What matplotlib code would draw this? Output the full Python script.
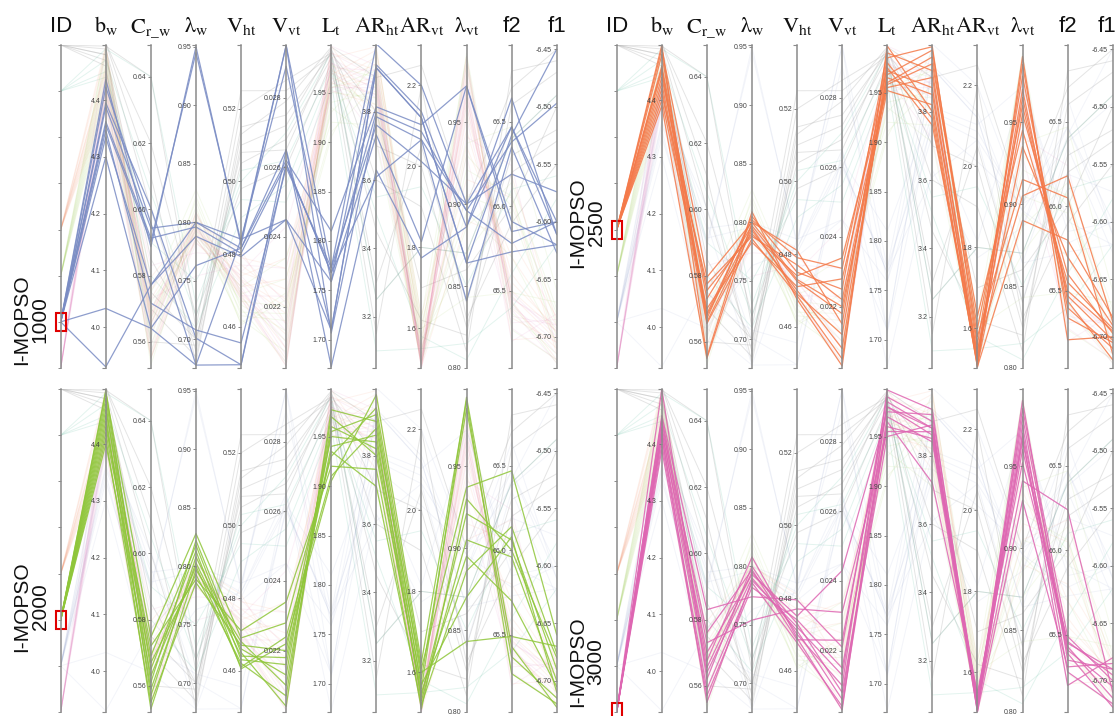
import matplotlib
matplotlib.use("Agg")
import matplotlib.pyplot as plt
from matplotlib.patches import Rectangle

plt.rcParams['font.family'] = ['Liberation Sans', 'DejaVu Sans']
plt.rcParams['mathtext.fontset'] = 'stix'

# column headers and axis ranges (bottom, top)
headers = ['ID', r'$\mathrm{b_w}$', r'$\mathrm{C_{r\_w}}$', r'$\mathrm{\lambda_w}$',
           r'$\mathrm{V_{ht}}$', r'$\mathrm{V_{vt}}$', r'$\mathrm{L_t}$',
           r'$\mathrm{AR_{ht}}$', r'$\mathrm{AR_{vt}}$', r'$\mathrm{\lambda_{vt}}$', 'f2', 'f1']
lows = [0, 3.928, 0.5521, 0.6755, 0.4486, 0.02024, 1.6717, 3.05, 1.502, 0.80, 65.043, -6.7272]
highs = [7, 4.497, 0.6496, 0.9515, 0.5376, 0.02951, 1.998, 3.995, 2.30, 0.997, 66.954, -6.4463]
ticks = [
    [0, 1, 2, 3, 4, 5, 6, 7],
    [4.0, 4.1, 4.2, 4.3, 4.4],
    [0.56, 0.58, 0.60, 0.62, 0.64],
    [0.70, 0.75, 0.80, 0.85, 0.90, 0.95],
    [0.46, 0.48, 0.50, 0.52],
    [0.022, 0.024, 0.026, 0.028],
    [1.70, 1.75, 1.80, 1.85, 1.90, 1.95],
    [3.2, 3.4, 3.6, 3.8],
    [1.6, 1.8, 2.0, 2.2],
    [0.80, 0.85, 0.90, 0.95],
    [65.5, 66.0, 66.5],
    [-6.70, -6.65, -6.60, -6.55, -6.50, -6.45],
]
tick_fmt = [None, '%.1f', '%.2f', '%.2f', '%.2f', '%.3f', '%.2f', '%.1f', '%.1f', '%.2f', '%.1f', '%.2f']

# solutions per run: b_w, C_r_w, lambda_w, V_ht, V_vt, L_t, AR_ht, AR_vt, lambda_vt, f2, f1
run_1000 = [
    [4.436, 0.5887, 0.950, 0.4825, 0.0295, 1.773, 3.998, 2.200, 0.900, 66.47, -6.600],
    [4.423, 0.5958, 0.678, 0.4841, 0.0289, 1.759, 3.937, 2.135, 0.886, 66.64, -6.611],
    [4.395, 0.6004, 0.701, 0.4495, 0.0265, 1.710, 3.928, 2.120, 0.864, 66.42, -6.450],
    [4.388, 0.5943, 0.800, 0.4816, 0.0262, 1.810, 3.814, 2.103, 0.972, 65.91, -6.620],
    [4.362, 0.5913, 0.796, 0.4802, 0.0261, 1.768, 3.799, 2.086, 0.896, 66.38, -6.497],
    [4.356, 0.5902, 0.945, 0.4834, 0.0295, 1.707, 3.785, 2.066, 0.841, 66.35, -6.627],
    [4.347, 0.5717, 0.708, 0.4555, 0.0260, 1.773, 3.761, 2.012, 0.900, 66.19, -6.574],
    [4.335, 0.5771, 0.788, 0.4793, 0.0245, 1.759, 3.732, 1.814, 0.972, 65.85, -6.600],
    [4.300, 0.5641, 0.763, 0.4816, 0.0265, 1.673, 3.629, 1.774, 0.886, 66.47, -6.611],
    [4.033, 0.5641, 0.678, 0.4495, 0.0261, 1.768, 3.609, 2.066, 0.896, 65.78, -6.600],
    [3.930, 0.5771, 0.800, 0.4841, 0.0245, 1.710, 3.928, 2.120, 0.864, 65.73, -6.620],
]
run_2500 = [
    [4.497, 0.5555, 0.809, 0.4675, 0.0203, 1.997, 3.80, 1.505, 0.990, 65.21, -6.700],
    [4.490, 0.5795, 0.800, 0.4810, 0.0215, 1.985, 3.99, 1.560, 0.978, 65.44, -6.720],
    [4.480, 0.5670, 0.805, 0.4750, 0.0225, 1.990, 3.92, 1.520, 0.985, 65.34, -6.705],
    [4.460, 0.5730, 0.797, 0.4725, 0.0218, 1.968, 3.98, 1.600, 0.960, 65.50, -6.695],
    [4.455, 0.5685, 0.802, 0.4790, 0.0231, 1.975, 3.76, 1.540, 0.970, 65.40, -6.710],
    [4.450, 0.5660, 0.793, 0.4700, 0.0208, 1.972, 3.87, 1.515, 0.965, 65.47, -6.703],
    [4.440, 0.5755, 0.790, 0.4740, 0.0234, 1.958, 3.94, 1.630, 0.945, 65.55, -6.693],
    [4.430, 0.5680, 0.795, 0.4690, 0.0212, 1.965, 3.85, 1.530, 0.955, 65.60, -6.697],
    [4.420, 0.5655, 0.786, 0.4685, 0.0205, 1.980, 3.78, 1.510, 0.935, 65.70, -6.690],
    [4.410, 0.5775, 0.788, 0.4770, 0.0222, 1.960, 3.96, 1.580, 0.915, 66.05, -6.715],
    [4.400, 0.5700, 0.783, 0.4710, 0.0228, 1.955, 3.90, 1.550, 0.905, 66.18, -6.687],
    [4.390, 0.5550, 0.800, 0.4730, 0.0220, 1.952, 3.82, 1.505, 0.890, 65.80, -6.683],
]
run_2000 = [
    [4.495, 0.5610, 0.822, 0.4650, 0.0204, 1.977, 3.900, 1.560, 0.992, 65.43, -6.723],
    [4.490, 0.5747, 0.828, 0.4690, 0.0228, 1.930, 3.940, 1.610, 0.937, 66.47, -6.660],
    [4.480, 0.5650, 0.813, 0.4605, 0.0222, 1.905, 3.978, 1.625, 0.990, 65.27, -6.720],
    [4.470, 0.5570, 0.808, 0.4660, 0.0213, 1.960, 3.820, 1.540, 0.921, 66.06, -6.690],
    [4.460, 0.5690, 0.818, 0.4630, 0.0216, 1.940, 3.860, 1.530, 0.905, 65.96, -6.700],
    [4.450, 0.5530, 0.797, 0.4680, 0.0210, 1.955, 3.920, 1.585, 0.985, 65.37, -6.715],
    [4.440, 0.5590, 0.803, 0.4640, 0.0218, 1.935, 3.710, 1.520, 0.886, 66.14, -6.676],
    [4.430, 0.5720, 0.789, 0.4710, 0.0234, 1.920, 3.760, 1.510, 0.930, 66.00, -6.680],
    [4.420, 0.5670, 0.793, 0.4620, 0.0207, 1.970, 3.800, 1.550, 0.895, 65.70, -6.705],
    [4.410, 0.5550, 0.786, 0.4670, 0.0220, 1.950, 3.840, 1.570, 0.870, 66.08, -6.710],
    [4.400, 0.5630, 0.800, 0.4610, 0.0224, 1.910, 3.880, 1.600, 0.843, 65.49, -6.670],
]
run_3000 = [
    [4.497, 0.5620, 0.800, 0.4700, 0.0210, 1.997, 3.935, 1.510, 0.990, 65.35, -6.690],
    [4.450, 0.5830, 0.774, 0.4795, 0.0221, 1.990, 3.900, 1.505, 0.985, 65.49, -6.700],
    [4.440, 0.5675, 0.808, 0.4690, 0.0203, 1.985, 3.880, 1.530, 0.980, 65.43, -6.715],
    [4.430, 0.5760, 0.797, 0.4685, 0.0223, 1.980, 3.860, 1.520, 0.975, 65.28, -6.720],
    [4.420, 0.5700, 0.793, 0.4750, 0.0243, 1.975, 3.920, 1.525, 0.970, 65.41, -6.705],
    [4.410, 0.5640, 0.790, 0.4710, 0.0206, 1.970, 3.840, 1.503, 0.968, 65.20, -6.680],
    [4.400, 0.5590, 0.786, 0.4677, 0.0204, 1.965, 3.720, 1.550, 0.952, 65.46, -6.695],
    [4.390, 0.5570, 0.782, 0.4740, 0.0215, 1.960, 3.850, 1.515, 0.941, 66.24, -6.710],
    [4.445, 0.5730, 0.754, 0.4770, 0.0231, 1.955, 3.870, 1.540, 0.965, 65.39, -6.723],
    [4.425, 0.5655, 0.795, 0.4730, 0.0208, 1.950, 3.890, 1.502, 0.929, 65.31, -6.685],
    [4.415, 0.5550, 0.788, 0.4720, 0.0213, 1.980, 3.880, 1.520, 0.960, 65.45, -6.690],
]
# other runs, only shown faintly in the background
others_id7 = [
    [4.490, 0.600, 0.690, 0.515, 0.0275, 1.990, 3.45, 1.62, 0.820, 66.60, -6.47],
    [4.480, 0.585, 0.700, 0.505, 0.0268, 1.985, 3.30, 2.05, 0.840, 66.30, -6.52],
    [4.470, 0.570, 0.685, 0.510, 0.0272, 1.995, 3.60, 1.90, 0.810, 66.80, -6.46],
    [4.500, 0.620, 0.720, 0.498, 0.0260, 1.980, 3.15, 2.20, 0.830, 65.90, -6.55],
    [4.460, 0.560, 0.695, 0.520, 0.0285, 1.990, 3.80, 1.70, 0.860, 66.00, -6.50],
    [4.500, 0.610, 0.680, 0.513, 0.0279, 1.996, 3.90, 2.25, 0.900, 66.70, -6.45],
    [4.480, 0.575, 0.700, 0.508, 0.0265, 1.993, 3.70, 2.00, 0.825, 66.20, -6.53],
    [4.495, 0.640, 0.710, 0.525, 0.0282, 1.988, 3.25, 1.80, 0.870, 66.40, -6.49],
]
others_id6 = [
    [4.440, 0.580, 0.710, 0.490, 0.0255, 1.970, 3.50, 1.58, 0.805, 65.60, -6.58],
    [4.490, 0.640, 0.730, 0.500, 0.0270, 1.990, 3.25, 1.80, 0.870, 66.40, -6.49],
    [4.450, 0.590, 0.750, 0.495, 0.0250, 1.960, 3.10, 1.55, 0.815, 65.40, -6.62],
    [4.470, 0.605, 0.720, 0.503, 0.0262, 1.975, 3.55, 1.95, 0.850, 66.10, -6.56],
]

run_names = ['1000', '2500', '2000', '3000']
run_ids = [1, 3, 2, 0]
run_data = [run_1000, run_2500, run_2000, run_3000]
run_colors = ['#7a8cc4', '#f47a4a', '#8fc63a', '#de66b2']
label_y = [0.15, 0.45, 0.325, 0.155]  # row label centre along each panel (axes fraction)

W, H = 1117, 716
fig = plt.figure(figsize=(W / 100, H / 100), dpi=100)

panel_left = [60.7, 616.7, 60.7, 616.7]
panel_top = [45, 45, 389, 389]
panel_w, panel_h = 496, 323
n = len(headers)


def norm(vals):
    return [(v - lo) / (hi - lo) for v, lo, hi in zip(vals, lows, highs)]


for p in range(4):
    host = fig.add_axes([panel_left[p] / W, 1 - (panel_top[p] + panel_h) / H,
                         panel_w / W, panel_h / H])
    host.set_xlim(0, n - 1)
    host.set_ylim(0, 1)
    host.axis('off')
    xs = list(range(n))

    # faint background: every other run
    for row in others_id7:
        host.plot(xs, norm([7] + row), color='#b4b4b4', lw=0.7, alpha=0.35)
    for row in others_id6:
        host.plot(xs, norm([6] + row), color='#66c2a5', lw=0.7, alpha=0.18)
    for q in range(4):
        if q == p:
            continue
        for row in run_data[q]:
            host.plot(xs, norm([run_ids[q]] + row), color=run_colors[q], lw=0.7, alpha=0.09)

    # highlighted run
    for row in run_data[p]:
        host.plot(xs, norm([run_ids[p]] + row), color=run_colors[p], lw=0.9, alpha=0.85)

    # one vertical axis per column
    for j in range(n):
        tw = host.twinx()
        tw.set_ylim(lows[j], highs[j])
        for s in tw.spines.values():
            s.set_visible(False)
        sp = tw.spines['left']
        sp.set_visible(True)
        sp.set_position(('axes', j / (n - 1)))
        sp.set_color('#8a8a8a')
        sp.set_linewidth(1.1)
        tw.yaxis.set_ticks_position('left')
        tw.set_yticks(ticks[j])
        if tick_fmt[j] is None:
            tw.set_yticklabels([])
        else:
            tw.set_yticklabels([tick_fmt[j] % t for t in ticks[j]])
        tw.set_yticks([lows[j], highs[j]], minor=True)
        tw.tick_params(axis='y', which='major', direction='out', length=2.5, width=0.6,
                       color='#777777', labelcolor='#444444', labelsize=5, pad=1)
        tw.tick_params(axis='y', which='minor', direction='out', length=3, width=0.8,
                       color='#8a8a8a')
        tw.get_xaxis().set_visible(False)
        tw.patch.set_visible(False)

    # red box at the run's ID
    yid = (run_ids[p] - lows[0]) / (highs[0] - lows[0])
    host.add_patch(Rectangle((-0.11, yid - 0.028), 0.22, 0.056, fill=False,
                             edgecolor='#e00000', lw=1.5, clip_on=False, zorder=10))

    # row label
    host.text(-30 / panel_w * (n - 1), label_y[p], 'I-MOPSO\n' + run_names[p],
              rotation=90, ha='center', va='center', multialignment='center',
              fontsize=15, linespacing=1.0, color='#111111')

# column headers
for left in (60.7, 616.7):
    for j, h in enumerate(headers):
        x = left + j * panel_w / (n - 1)
        if x > W - 10:
            x = W - 10
        fig.text(x / W, 1 - 32 / H, h, ha='center', va='baseline', fontsize=16, color='#111111')

fig.savefig('out.png', dpi=100)
